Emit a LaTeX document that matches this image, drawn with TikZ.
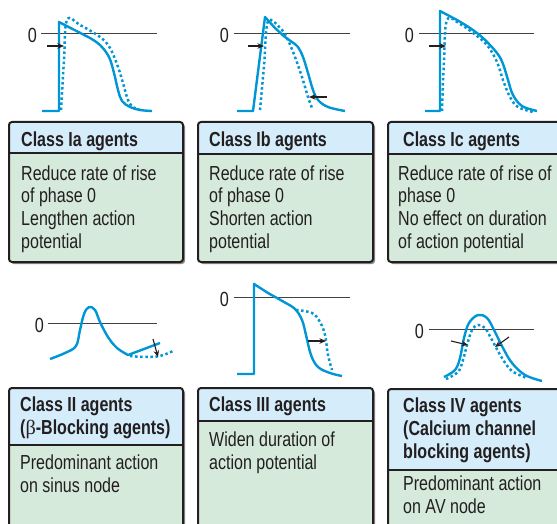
\documentclass[tikz,border=0pt]{standalone}
\usepackage{fontspec}
\setmainfont[FakeStretch=0.79]{Liberation Sans}
\newfontfamily\betafont{Liberation Serif}
\usetikzlibrary{arrows.meta}
\definecolor{wave}{RGB}{0,150,214}
\definecolor{titlebg}{RGB}{213,236,250}
\definecolor{bodybg}{RGB}{213,234,218}
\definecolor{ink}{RGB}{35,31,32}
\tikzset{
 solidwave/.style={wave, line width=2.4pt, line join=round},
 dotwave/.style={wave, line width=2.5pt, dash pattern=on 2.5pt off 2.6pt},
 zeroline/.style={ink!85, line width=0.9pt},
 smallarrow/.style={ink, line width=1.1pt, -{Stealth[length=6.5pt,width=5.5pt]}},
 zerolabel/.style={anchor=east, inner sep=0pt, font=\fontsize{20.5}{22}\selectfont, text=ink},
 txt/.style={anchor=base west, inner sep=0pt, font=\fontsize{20.3}{23}\selectfont, text=ink},
 ttl/.style={anchor=base west, inner sep=0pt, font=\fontsize{20.3}{23}\selectfont\bfseries, text=ink},
 boxframe/.style={draw=ink, line width=2pt, rounded corners=3pt},
 boxshadow/.style={fill=black!45, rounded corners=3pt},
}
% #1 x1, #2 y1, #3 x2, #4 divider y, #5 y2
\newcommand\agbox[5]{%
 \fill[boxshadow] (#1+2,#2+2) rectangle (#3+2,#5+2);
 \fill[bodybg, rounded corners=3pt] (#1,#2) rectangle (#3,#5);
 \begin{scope}
  \clip[rounded corners=3pt] (#1,#2) rectangle (#3,#5);
  \fill[titlebg] (#1,#2) rectangle (#3,#4);
 \end{scope}
 \draw[ink, line width=2pt] (#1,#4) -- (#3,#4);
 \draw[boxframe] (#1,#2) rectangle (#3,#5);
}
% #1 name, #2 style, #3 x, #4 first baseline, #5 spacing, #6 lines
\newcommand\txtlines[6]{%
 \foreach \t [count=\i] in {#6} {
  \node[#2] (#1-\i) at (#3,{#4+#5*(\i-1)}) {\t};
 }
}
\begin{document}
\begin{tikzpicture}[x=1pt,y=-1pt]
\useasboundingbox (0,0) rectangle (557,524);
\clip (0,0) rectangle (557,524);
\fill[white] (0,0) rectangle (557,524);

% ---------- Class Ia ----------
\draw[zeroline] (41,33) coordinate (z1a) -- (157,33) coordinate (z1b);
\node[zerolabel] (zl1) at (37,35) {0};
\draw[dotwave] plot[smooth, tension=0.6] coordinates {(61,110) (64,60) (67,20) (80,25) (100,37) (110,48) (118,67) (123,83) (128,100) (133,107) (140,110)};
\draw[solidwave] (42,111) -- (59,111) -- (59,22) -- plot[smooth, tension=0.6] coordinates {(90,38) (100,45) (109,57) (114,73) (118,90) (122,101) (130,107) (140,110) (152,111)};
\coordinate (a1s) at (47,46); \coordinate (a1e) at (64,46);
\draw[smallarrow] (a1s) -- (a1e);

% ---------- Class Ib ----------
\draw[zeroline] (234,33) coordinate (z2a) -- (350,33) coordinate (z2b);
\node[zerolabel] (zl2) at (229,35) {0};
\draw[dotwave] plot[smooth, tension=0.5] coordinates {(260,110) (264,66) (268,21) (282,30) (288,40) (295,57) (302,77) (308,97) (312,108)};
\draw[solidwave] (237,111) -- (253,111) -- (265,17) -- plot[smooth, tension=0.6] coordinates {(275,28) (285,37) (292,42) (298,47) (303,57) (308,73) (313,90) (318,100) (328,107) (345,111)};
\coordinate (a2s) at (248,46); \coordinate (a2e) at (264,46);
\draw[smallarrow] (a2s) -- (a2e);
\coordinate (a3s) at (327,97); \coordinate (a3e) at (309,97);
\draw[smallarrow] (a3s) -- (a3e);

% ---------- Class Ic ----------
\draw[zeroline] (419,33) coordinate (z3a) -- (534,33) coordinate (z3b);
\node[zerolabel] (zl3) at (414,35) {0};
\draw[dotwave] plot[smooth, tension=0.6] coordinates {(442,111) (444,60) (447,20) (460,24) (473,33) (487,45) (497,62) (503,80) (510,97) (518,107) (533,112)};
\draw[solidwave] (425,111) -- (440,111) -- (440,11) -- plot[smooth, tension=0.6] coordinates {(457,20) (470,28) (483,38) (497,53) (503,64) (508,80) (513,95) (522,106) (537,111)};
\coordinate (a4s) at (429,46); \coordinate (a4e) at (446,46);
\draw[smallarrow] (a4s) -- (a4e);

% ---------- Class II ----------
\draw[zeroline] (48,323) coordinate (z4a) -- (157,323) coordinate (z4b);
\node[zerolabel] (zl4) at (44,325) {0};
\draw[dotwave] plot[smooth, tension=0.6] coordinates {(130,356) (145,357) (160,356) (173,351)};
\draw[solidwave] plot[smooth, tension=0.6] coordinates {(50,359) (65,353) (76,346) (80,330) (84,314) (89,307) (95,310) (100,322) (108,337) (117,348) (128,355)} -- (160,343);
\coordinate (a5s) at (153,339); \coordinate (a5e) at (158,357);
\draw[smallarrow] (a5s) -- (a5e);

% ---------- Class III ----------
\draw[zeroline] (234,297) coordinate (z5a) -- (350,297) coordinate (z5b);
\node[zerolabel] (zl5) at (229,299) {0};
\draw[dotwave] plot[smooth, tension=0.6] coordinates {(296,310) (312,313) (320,322) (325,335) (328,355) (332,370)};
\draw[solidwave] (237,374) -- (254,374) -- (254,284) -- plot[smooth, tension=0.6] coordinates {(268,293) (284,302) (295,309) (302,320) (306,335) (311,355) (318,367) (330,373) (342,376)};
\coordinate (a6s) at (308,341); \coordinate (a6e) at (326,341);
\draw[smallarrow] (a6s) -- (a6e);

% ---------- Class IV ----------
\draw[zeroline] (429,329) coordinate (z6a) -- (534,329) coordinate (z6b);
\node[zerolabel] (zl6) at (424,331) {0};
\draw[dotwave] plot[smooth, tension=0.6] coordinates {(446,379) (458,372) (463,360) (467,345) (472,330) (478,325) (485,328) (492,340) (502,358) (512,371) (527,378)};
\draw[solidwave] plot[smooth, tension=0.6] coordinates {(444,377) (455,370) (460,358) (464,338) (469,323) (478,315) (487,318) (494,330) (503,348) (512,363) (525,375) (542,381)};
\coordinate (a7s) at (451,341); \coordinate (a7e) at (468,345);
\draw[smallarrow] (a7s) -- (a7e);
\coordinate (a8s) at (509,337); \coordinate (a8e) at (495,347);
\draw[smallarrow] (a8s) -- (a8e);

% ---------- Boxes ----------
\agbox{9}{122}{183}{153}{262}
\agbox{198}{122}{373}{154}{262}
\agbox{388}{122}{580}{154}{262}
\agbox{9}{388}{183}{445}{545}
\agbox{198}{388}{373}{421}{545}
\agbox{388}{389}{580}{470}{545}

\txtlines{t1}{ttl}{21}{147}{22.7}{{Class Ia agents}}
\txtlines{b1}{txt}{21}{180}{22.7}{{Reduce rate of rise}, {of phase 0}, {Lengthen action}, {potential}}
\txtlines{t2}{ttl}{209}{147}{22.7}{{Class Ib agents}}
\txtlines{b2}{txt}{209}{180}{22.7}{{Reduce rate of rise}, {of phase 0}, {Shorten action}, {potential}}
\txtlines{t3}{ttl}{403}{147}{22.7}{{Class Ic agents}}
\txtlines{b3}{txt}{398}{180}{22.7}{{Reduce rate of rise of}, {phase 0}, {No effect on duration}, {of action potential}}

\txtlines{t4}{ttl}{20}{411}{23.3}{{Class II agents}, {({\betafont\mdseries β}-Blocking agents)}}
\txtlines{b4}{txt}{20}{469}{23.5}{{Predominant action}, {on sinus node}}
\txtlines{t5}{ttl}{209}{411}{23.3}{{Class III agents}}
\txtlines{b5}{txt}{209}{446}{23.5}{{Widen duration of}, {action potential}}
\txtlines{t6}{ttl}{403}{412}{23}{{Class IV agents}, {(Calcium channel}, {blocking agents)}}
\txtlines{b6}{txt}{403}{490}{23}{{Predominant action}, {on AV node}}
\end{tikzpicture}
\end{document}
